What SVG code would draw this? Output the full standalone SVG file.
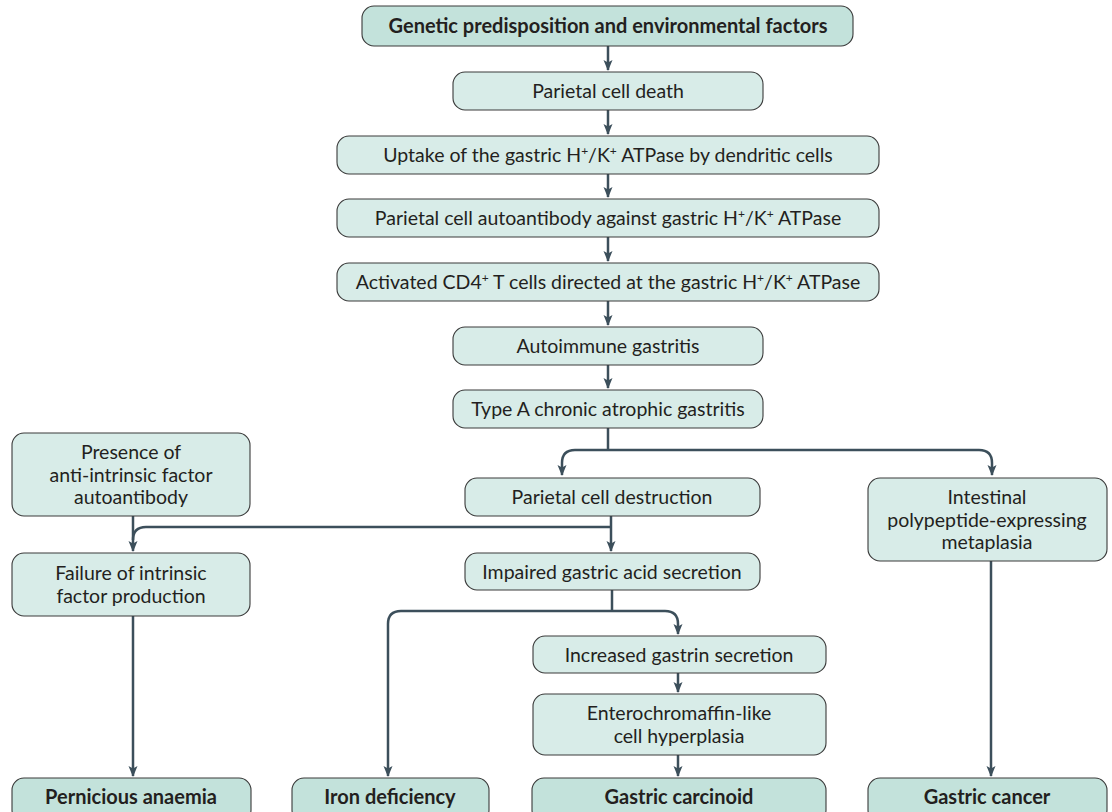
<svg xmlns="http://www.w3.org/2000/svg" width="1112" height="812" viewBox="0 0 1112 812">
<style>
.box{fill:#d8ece8;stroke:#3a3a3a;stroke-width:1.1}
.boxb{fill:#c3e2db;stroke:#3a3a3a;stroke-width:1.1}
text{font-family:Lato,"Liberation Sans",sans-serif;font-size:19.5px;fill:#231f20;text-anchor:middle}
.b{font-weight:bold;font-size:20px}
.sup{font-size:12px}
.c{fill:none;stroke:#3c4f5b;stroke-width:2.5}
</style>
<defs>
<marker id="ah" markerUnits="userSpaceOnUse" markerWidth="12" markerHeight="12" viewBox="0 0 12 12" refX="10" refY="6" orient="auto">
<path d="M0,1.5 L11,6 L0,10.5 L2.5,6 Z" fill="#3c4f5b"/>
</marker>
</defs>
<rect width="1112" height="812" fill="#ffffff"/>
<g id="connectors">
<path class="c" marker-end="url(#ah)" d="M608,46 V70"/>
<path class="c" marker-end="url(#ah)" d="M608,110 V134"/>
<path class="c" marker-end="url(#ah)" d="M608,174 V197"/>
<path class="c" marker-end="url(#ah)" d="M608,237 V261"/>
<path class="c" marker-end="url(#ah)" d="M608,301 V325"/>
<path class="c" marker-end="url(#ah)" d="M608,365 V388"/>
<path class="c" d="M608,428 V450"/>
<path class="c" marker-end="url(#ah)" d="M608,450 H575 Q562,450 562,463 V475"/>
<path class="c" marker-end="url(#ah)" d="M608,450 H979 Q992,450 992,463 V475"/>
<path class="c" marker-end="url(#ah)" d="M611,516 V551"/>
<path class="c" d="M611,527 H146 Q133,527 133,540"/>
<path class="c" marker-end="url(#ah)" d="M133,516 V551"/>
<path class="c" d="M612,590 V611"/>
<path class="c" marker-end="url(#ah)" d="M612,611 H401 Q388,611 388,624 V776"/>
<path class="c" marker-end="url(#ah)" d="M612,611 H665 Q678,611 678,624 V634"/>
<path class="c" marker-end="url(#ah)" d="M678,673 V692"/>
<path class="c" marker-end="url(#ah)" d="M678,755 V776"/>
<path class="c" marker-end="url(#ah)" d="M133,616 V776"/>
<path class="c" marker-end="url(#ah)" d="M991,561 V776"/>
</g>
<g id="n1"><rect class="boxb" x="362" y="6" width="491" height="40" rx="12"/><text class="b" x="608" y="33">Genetic predisposition and environmental factors</text></g>
<g id="n2"><rect class="box" x="453" y="72" width="310" height="38" rx="12"/><text x="608" y="98">Parietal cell death</text></g>
<g id="n3"><rect class="box" x="337" y="136" width="542" height="38" rx="12"/><text x="608" y="162">Uptake of the gastric H<tspan class="sup" dy="-7">+</tspan><tspan dy="7">/K</tspan><tspan class="sup" dy="-7">+</tspan><tspan dy="7"> ATPase by dendritic cells</tspan></text></g>
<g id="n4"><rect class="box" x="337" y="199" width="542" height="38" rx="12"/><text x="608" y="225">Parietal cell autoantibody against gastric H<tspan class="sup" dy="-7">+</tspan><tspan dy="7">/K</tspan><tspan class="sup" dy="-7">+</tspan><tspan dy="7"> ATPase</tspan></text></g>
<g id="n5"><rect class="box" x="337" y="263" width="542" height="38" rx="12"/><text x="608" y="289">Activated CD4<tspan class="sup" dy="-7">+</tspan><tspan dy="7"> T cells directed at the gastric H</tspan><tspan class="sup" dy="-7">+</tspan><tspan dy="7">/K</tspan><tspan class="sup" dy="-7">+</tspan><tspan dy="7"> ATPase</tspan></text></g>
<g id="n6"><rect class="box" x="453" y="327" width="310" height="38" rx="12"/><text x="608" y="353">Autoimmune gastritis</text></g>
<g id="n7"><rect class="box" x="453" y="390" width="310" height="38" rx="12"/><text x="608" y="416">Type A chronic atrophic gastritis</text></g>
<g id="n8"><rect class="box" x="12" y="433" width="238" height="83" rx="12"/><text x="131" y="459">Presence of</text><text x="131" y="481.5">anti-intrinsic factor</text><text x="131" y="504">autoantibody</text></g>
<g id="n9"><rect class="box" x="465" y="478" width="295" height="38" rx="12"/><text x="612" y="504">Parietal cell destruction</text></g>
<g id="n10"><rect class="box" x="868" y="478" width="239" height="83" rx="12"/><text x="987" y="504">Intestinal</text><text x="987" y="526.5">polypeptide-expressing</text><text x="987" y="549">metaplasia</text></g>
<g id="n11"><rect class="box" x="12" y="553" width="238" height="63" rx="12"/><text x="131" y="580">Failure of intrinsic</text><text x="131" y="603">factor production</text></g>
<g id="n12"><rect class="box" x="465" y="553" width="295" height="37" rx="12"/><text x="612" y="578.5">Impaired gastric acid secretion</text></g>
<g id="n13"><rect class="box" x="533" y="636" width="293" height="37" rx="12"/><text x="679" y="661.5">Increased gastrin secretion</text></g>
<g id="n14"><rect class="box" x="533" y="694" width="293" height="61" rx="12"/><text x="679" y="720">Enterochromaffin-like</text><text x="679" y="743">cell hyperplasia</text></g>
<g id="n15"><rect class="boxb" x="12" y="778" width="239" height="44" rx="12"/><text class="b" x="131" y="804">Pernicious anaemia</text></g>
<g id="n16"><rect class="boxb" x="292" y="778" width="197" height="44" rx="12"/><text class="b" x="390" y="804">Iron deficiency</text></g>
<g id="n17"><rect class="boxb" x="532" y="778" width="294" height="44" rx="12"/><text class="b" x="679" y="804">Gastric carcinoid</text></g>
<g id="n18"><rect class="boxb" x="868" y="778" width="239" height="44" rx="12"/><text class="b" x="987" y="804">Gastric cancer</text></g>
</svg>
